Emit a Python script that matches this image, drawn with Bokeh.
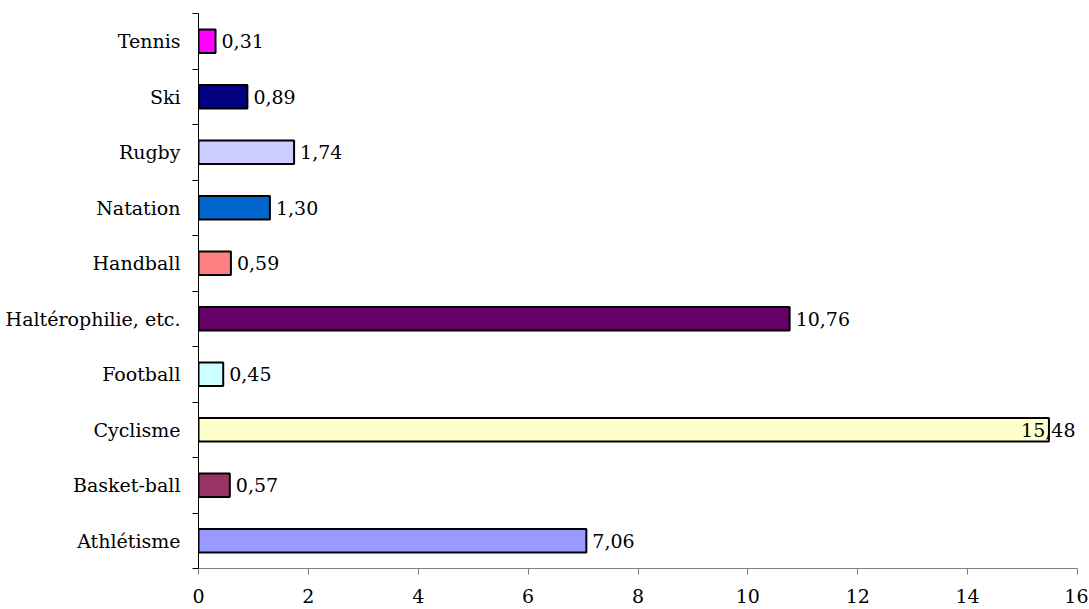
from bokeh.plotting import figure
from bokeh.models import FixedTicker, Range1d, ColumnDataSource
from bokeh.core.properties import value
from bokeh.embed import file_html
from bokeh.resources import INLINE

categories = ["Athlétisme", "Basket-ball", "Cyclisme", "Football", "Haltérophilie, etc.",
              "Handball", "Natation", "Rugby", "Ski", "Tennis"]
values = [7.06, 0.57, 15.48, 0.45, 10.76, 0.59, 1.30, 1.74, 0.89, 0.31]
colors = ["#9999FF", "#993366", "#FFFFCC", "#CCFFFF", "#660066",
          "#FF8080", "#0066CC", "#CCCCFF", "#000080", "#FF00FF"]
x_ticks = [0, 2, 4, 6, 8, 10, 12, 14, 16]

FONT = "DejaVu Serif"
FS = "19px"
XMAX = 16

ys = [i + 0.5 for i in range(len(categories))]
labels = [f"{v:.2f}".replace(".", ",") for v in values]
inside = [v > XMAX - 1 for v in values]
lab_x = [XMAX if f else v for v, f in zip(values, inside)]
lab_align = ["right" if f else "left" for f in inside]
lab_off = [-2 if f else 6 for f in inside]

src = ColumnDataSource(dict(y=ys, v=values, c=colors, lx=lab_x, lt=labels,
                            la=lab_align, lo=lab_off))

p = figure(width=1088, height=608, output_backend="svg", toolbar_location=None,
           x_range=Range1d(0, XMAX), y_range=Range1d(0, len(categories)),
           min_border_left=198, min_border_right=11, min_border_top=13, min_border_bottom=40)
p.outline_line_color = None
p.grid.grid_line_color = None
p.background_fill_color = "white"
p.border_fill_color = "white"

p.hbar(y="y", left=0, right="v", height=0.42, fill_color="c",
       line_color="black", line_width=2, source=src)

p.text(x="lx", y="y", text="lt", text_align="la", x_offset="lo",
       text_baseline="middle", text_font=value(FONT), text_font_size=FS,
       text_color="black", source=src)

# y axis
yax = p.yaxis[0]
yax.ticker = FixedTicker(ticks=ys, minor_ticks=list(range(len(categories) + 1)))
yax.major_label_overrides = {y: c for y, c in zip(ys, categories)}
yax.major_tick_out = 0
yax.major_tick_in = 0
yax.minor_tick_out = 6
yax.minor_tick_in = 0
yax.minor_tick_line_color = "black"
yax.axis_line_color = "black"
yax.major_label_standoff = 12
yax.major_label_text_font = FONT
yax.major_label_text_font_size = FS
yax.major_label_text_color = "black"

# x axis
xax = p.xaxis[0]
xax.ticker = FixedTicker(ticks=x_ticks)
xax.minor_tick_line_color = None
xax.major_tick_out = 6
xax.major_tick_in = 0
xax.axis_line_color = "#808080"
xax.major_tick_line_color = "#808080"
xax.major_label_standoff = 14
xax.major_label_text_font = FONT
xax.major_label_text_font_size = FS
xax.major_label_text_color = "black"

open("out.html", "w").write(file_html(p, INLINE))
